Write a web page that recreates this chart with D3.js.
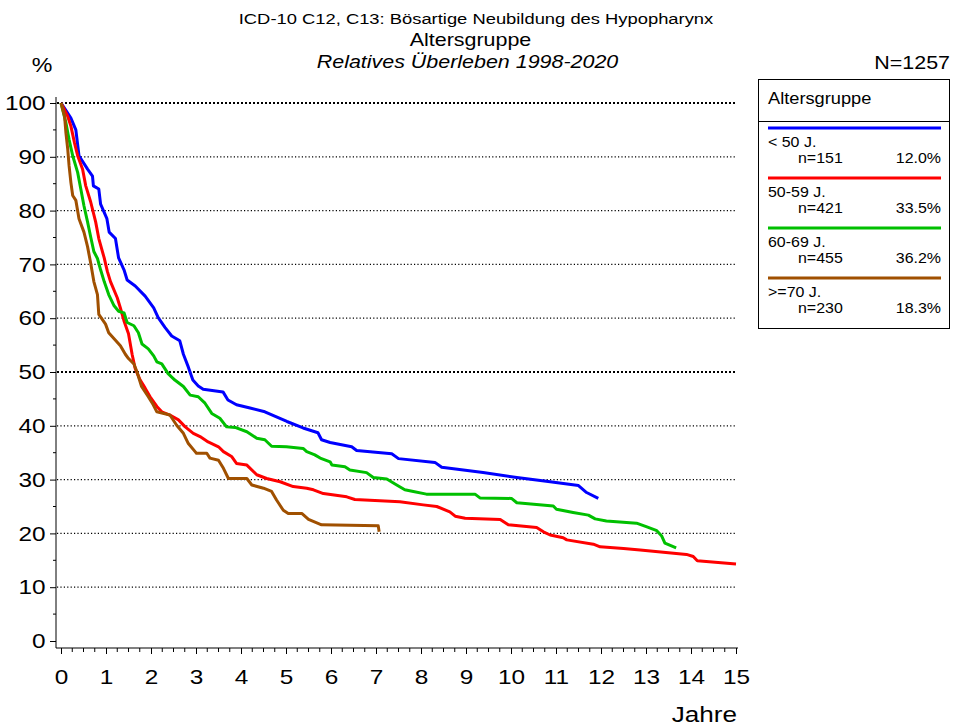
<!DOCTYPE html>
<html>
<head>
<meta charset="utf-8">
<script src="https://cdn.jsdelivr.net/npm/d3@7"></script>
<style>
  body { margin: 0; background: #fff; }
  svg { font-family: "Liberation Sans", Arial, sans-serif; }
</style>
</head>
<body>
<svg id="chart" width="953" height="728"></svg>
<script>
// values: [years, relative survival %]
const lt50 = [[0,100],[0.08,99],[0.22,97.2],[0.33,95],[0.4,90.2],[0.59,87.7],[0.7,86.4],[0.72,84.6],[0.84,84],[0.88,81.2],[1.02,78.5],[1.07,76],[1.21,74.8],[1.28,71.2],[1.4,69],[1.47,67.1],[1.65,66],[1.87,64.1],[2.06,61.9],[2.16,60.1],[2.31,58.3],[2.46,56.7],[2.64,55.8],[2.72,53.3],[2.83,50.9],[2.93,48.5],[3.05,47.4],[3.16,46.8],[3.6,46.3],[3.71,44.8],[3.9,43.9],[4.2,43.3],[4.53,42.6],[5.02,40.8],[5.38,39.6],[5.71,38.7],[5.79,37.4],[5.98,36.9],[6.46,36.1],[6.57,35.4],[7.35,34.8],[7.5,33.9],[8.31,33.2],[8.46,32.3],[9.38,31.3],[10.13,30.4],[10.87,29.6],[11.5,28.9],[11.68,27.6],[11.94,26.5]];
const age5059 = [[0,100],[0.15,97.5],[0.22,95.7],[0.3,92.6],[0.37,90.2],[0.48,87.7],[0.55,84.6],[0.66,81.6],[0.77,77.9],[0.84,74.8],[0.96,71.2],[1.03,68.7],[1.1,66.8],[1.25,63.8],[1.32,61.9],[1.4,59.5],[1.5,57.1],[1.58,53.3],[1.65,50.6],[1.76,48.5],[1.87,47],[1.98,45.4],[2.13,43.6],[2.24,42.6],[2.42,42],[2.61,41.1],[2.76,39.8],[2.94,38.6],[3.09,38],[3.27,37],[3.5,36.1],[3.61,35.2],[3.79,34.3],[3.9,33],[4.13,32.7],[4.35,30.9],[4.57,30.2],[4.87,29.6],[5.16,28.7],[5.46,28.4],[5.61,28.1],[5.83,27.4],[6.35,26.8],[6.53,26.3],[7.53,25.9],[8.05,25.3],[8.35,25],[8.64,24],[8.76,23.2],[8.98,22.8],[9.76,22.6],[9.94,21.6],[10.57,21.1],[10.72,20.3],[10.87,19.7],[11.16,19.2],[11.24,18.8],[11.83,18],[11.98,17.5],[12.5,17.2],[12.87,16.9],[13.9,16.1],[14.05,15.7],[14.14,14.9],[15,14.3]];
const age6069 = [[0,100],[0.11,96.3],[0.18,93.2],[0.26,90.2],[0.37,87.1],[0.44,84],[0.51,80.9],[0.59,77.9],[0.66,75.1],[0.73,72.4],[0.81,71.1],[0.88,69],[0.96,66.8],[1.06,64.4],[1.18,62.3],[1.28,61.3],[1.4,61],[1.47,59.2],[1.62,58.6],[1.72,57.3],[1.8,55.2],[1.94,54.3],[2.06,53],[2.13,51.9],[2.24,51.5],[2.38,49.7],[2.53,48.5],[2.72,47.3],[2.87,45.7],[3.05,45.4],[3.2,44.2],[3.35,42.3],[3.53,41.4],[3.68,39.8],[3.87,39.7],[4.13,38.9],[4.35,37.7],[4.53,37.4],[4.68,36.2],[5.01,36.1],[5.38,35.8],[5.46,35.2],[5.64,34.6],[5.76,34],[5.98,33.3],[6.02,32.7],[6.31,32.4],[6.42,31.8],[6.79,31.3],[6.94,30.4],[7.24,30.1],[7.46,29],[7.64,28.1],[7.83,27.8],[8.12,27.3],[9.2,27.3],[9.31,26.6],[10.01,26.5],[10.13,25.7],[10.94,25.1],[11.01,24.5],[11.38,23.9],[11.72,23.4],[11.87,22.7],[12.12,22.3],[12.79,21.9],[13.02,21.2],[13.24,20.5],[13.35,19.5],[13.42,18.2],[13.67,17.3]];
const ge70 = [[0,100],[0.08,97.5],[0.11,94.4],[0.15,91.4],[0.18,88.3],[0.22,85.2],[0.26,82.8],[0.33,81.9],[0.4,78.5],[0.51,76],[0.59,73.3],[0.66,70.2],[0.73,66.8],[0.81,64.4],[0.84,60.7],[0.99,58.9],[1.06,57.3],[1.32,54.9],[1.43,53.3],[1.5,52.5],[1.62,51.5],[1.69,50],[1.79,47.3],[1.94,45.4],[2.05,43.9],[2.13,42.6],[2.42,42],[2.57,40.1],[2.72,38.6],[2.83,36.7],[2.98,35.2],[3.01,34.9],[3.24,34.9],[3.31,34],[3.5,33.6],[3.61,32.1],[3.72,30.2],[4.13,30.2],[4.24,29],[4.5,28.4],[4.68,27.8],[4.79,26.2],[4.94,24.3],[5.05,23.7],[5.35,23.7],[5.5,22.6],[5.79,21.6],[7.05,21.4],[7.07,20.3]];

const groupLabels = ['< 50 J.', '50-59 J.', '60-69 J.', '>=70 J.'];
const groupN = [151, 421, 455, 230];
const groupShare = ['12.0%', '33.5%', '36.2%', '18.3%'];
const groupColors = ['#0000ff', '#ff0000', '#00c000', '#a05000'];
const seriesList = [lt50, age5059, age6069, ge70];

const xTicks = d3.range(0, 16);
const yTicks = d3.range(0, 101, 10);

const svg = d3.select('#chart');

const x = d3.scaleLinear().domain([0, 15]).range([61, 736]);
const y = d3.scaleLinear().domain([0, 100]).range([641, 103]);

// the reference text is a little wider than Arial, so stretch it horizontally
const stretch = 1.16;
function label(parent, px, py, txt, size, anchor, sx) {
  return parent.append('text')
    .attr('transform', `translate(${px},${py}) scale(${sx || stretch},1)`)
    .attr('text-anchor', anchor || 'start')
    .style('font-size', size + 'px')
    .text(txt);
}

// titles
label(svg, 476, 24, 'ICD-10 C12, C13: Bösartige Neubildung des Hypopharynx', 15.5, 'middle', 1.185);
label(svg, 470.5, 46, 'Altersgruppe', 18.5, 'middle');
label(svg, 467.5, 68, 'Relatives Überleben 1998-2020', 18.5, 'middle').style('font-style', 'italic');
label(svg, 950, 69, 'N=1257', 18.5, 'end');
label(svg, 42, 72, '%', 20, 'middle');

// dotted grid
svg.append('g').selectAll('line')
    .data(yTicks.filter(d => d > 0))
  .enter().append('line')
    .attr('x1', 57).attr('x2', 736)
    .attr('y1', d => y(d)).attr('y2', d => y(d))
    .attr('stroke', '#000')
    .attr('stroke-width', d => d % 50 === 0 ? 2 : 1.2)
    .attr('stroke-dasharray', d => d % 50 === 0 ? '2,2' : '1.2,2.2');

// y axis
const yAxis = svg.append('g')
    .attr('transform', 'translate(56,0)')
    .call(d3.axisLeft(y).tickValues(yTicks).tickSize(6).tickSizeOuter(0).tickPadding(3));
yAxis.select('.domain').attr('d', 'M0,97V648');
yAxis.selectAll('text')
    .style('font-size', '21px')
    .style('font-family', '"Liberation Sans", Arial, sans-serif')
    .attr('transform', `scale(${stretch},1)`);
yAxis.append('g').selectAll('line')
    .data(d3.range(5, 100, 10))
  .enter().append('line')
    .attr('x1', -3).attr('x2', 0)
    .attr('y1', d => y(d)).attr('y2', d => y(d))
    .attr('stroke', '#000');

// x axis
const xAxis = svg.append('g')
    .attr('transform', 'translate(0,648)')
    .call(d3.axisBottom(x).tickValues(xTicks).tickFormat(d3.format('d')).tickSize(6).tickSizeOuter(0).tickPadding(15));
xAxis.select('.domain').attr('d', 'M56,0H738');
xAxis.selectAll('text')
    .style('font-size', '21px')
    .style('font-family', '"Liberation Sans", Arial, sans-serif')
    .attr('transform', `scale(${stretch},1)`);
xAxis.append('g').selectAll('line')
    .data(d3.range(0, 60).filter(i => i % 4 !== 0).map(i => i / 4))
  .enter().append('line')
    .attr('x1', d => x(d)).attr('x2', d => x(d))
    .attr('y1', 0).attr('y2', 4)
    .attr('stroke', '#000');

label(svg, 737, 722, 'Jahre', 22.5, 'end');

// survival curves
const line = d3.line().x(d => x(d[0])).y(d => y(d[1]));
svg.append('g').selectAll('path')
    .data(seriesList)
  .enter().append('path')
    .attr('d', line)
    .attr('fill', 'none')
    .attr('stroke', (d, i) => groupColors[i])
    .attr('stroke-width', 3)
    .attr('stroke-linejoin', 'round');

// legend
const legend = svg.append('g').attr('transform', 'translate(758,79)');
legend.append('rect')
    .attr('x', 0.5).attr('y', 0.5).attr('width', 191).attr('height', 249)
    .attr('fill', 'none').attr('stroke', '#000');
legend.append('line')
    .attr('x1', 0).attr('x2', 192).attr('y1', 42.5).attr('y2', 42.5).attr('stroke', '#000');
label(legend, 10, 25, 'Altersgruppe', 16, 'start', 1.14);

groupLabels.forEach((g, i) => {
  const item = legend.append('g').attr('transform', `translate(0,${49 + i * 50})`);
  item.append('line')
      .attr('x1', 10).attr('x2', 183).attr('y1', 0).attr('y2', 0)
      .attr('stroke', groupColors[i]).attr('stroke-width', 3);
  label(item, 10, 19, g, 14, 'start', 1.14);
  label(item, 40, 35, 'n=' + groupN[i], 14, 'start', 1.14);
  label(item, 183, 35, groupShare[i], 14, 'end', 1.14);
});
</script>
</body>
</html>
